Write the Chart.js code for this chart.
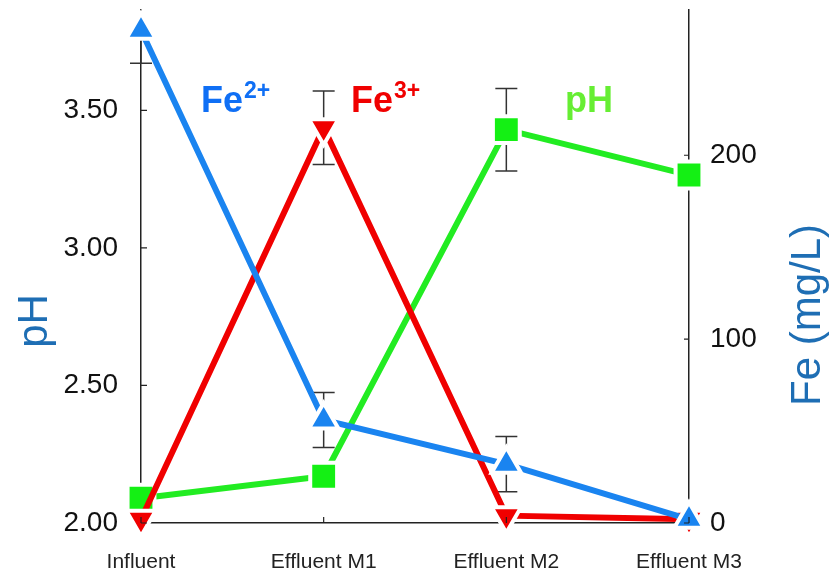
<!DOCTYPE html>
<html>
<head>
<meta charset="utf-8">
<title>pH and Fe</title>
<script src="https://cdn.jsdelivr.net/npm/chart.js@4"></script>
<style>
    html, body { margin: 0; padding: 0; background: #fff; }
    #wrap { width: 834px; height: 573px; position: relative; }
</style>
</head>
<body>
<div id="wrap"><canvas id="feChart"></canvas></div>
<script>
// Data
const categories = ['Influent', 'Effluent M1', 'Effluent M2', 'Effluent M3'];
const fe2 = [268, 56, 32, 2];
const fe2Err = [18, 15, 15, 0];
const fe3 = [2, 215, 4, 2];
const fe3Err = [0, 20, 0, 0];
const ph = [2.09, 2.17, 3.43, 3.265];
const phErr = [0, 0, 0.15, 0];
const phTicks = [2.0, 2.5, 3.0, 3.5];
const feTicks = [0, 100, 200];

const FONT = "'Liberation Sans', Arial, sans-serif";
Chart.defaults.font.family = FONT;

const errors = [fe2Err, fe3Err, phErr];

// Error bars, drawn under the markers
const errorBars = {
    id: 'errorBars',
    beforeDatasetsDraw(chart) {
        const ctx = chart.ctx;
        const area = chart.chartArea;
        const xs = chart.scales.x;
        ctx.save();
        ctx.beginPath();
        ctx.rect(area.left - 20, area.top, area.right - area.left + 40, area.bottom - area.top);
        ctx.clip();
        ctx.strokeStyle = '#333';
        ctx.lineWidth = 1.5;
        chart.data.datasets.forEach((ds, d) => {
            const ys = chart.scales[ds.yAxisID];
            errors[d].forEach((e, i) => {
                if (!e) return;
                const x = xs.getPixelForValue(i);
                const top = ys.getPixelForValue(ds.data[i] + e);
                const bot = ys.getPixelForValue(ds.data[i] - e);
                ctx.beginPath();
                ctx.moveTo(x, top); ctx.lineTo(x, bot);
                ctx.moveTo(x - 11, top); ctx.lineTo(x + 11, top);
                ctx.moveTo(x - 11, bot); ctx.lineTo(x + 11, bot);
                ctx.stroke();
            });
        });
        ctx.restore();
    }
};

// Inward tick marks, axis titles and series labels
const decorations = {
    id: 'decorations',
    afterDraw(chart) {
        const ctx = chart.ctx;
        const area = chart.chartArea;
        const { x, y, y1 } = chart.scales;
        ctx.save();
        ctx.strokeStyle = '#222';
        ctx.lineWidth = 1.2;
        ctx.beginPath();
        phTicks.forEach(v => {
            const py = y.getPixelForValue(v);
            ctx.moveTo(area.left, py); ctx.lineTo(area.left + 6, py);
        });
        feTicks.forEach(v => {
            const py = y1.getPixelForValue(v);
            ctx.moveTo(area.right, py); ctx.lineTo(area.right - 5, py);
        });
        categories.forEach((c, i) => {
            const px = x.getPixelForValue(i);
            ctx.moveTo(px, area.bottom); ctx.lineTo(px, area.bottom - 6);
        });
        ctx.stroke();

        // axis titles, both read bottom to top
        ctx.fillStyle = '#1e6eb4';
        ctx.font = '42px ' + FONT;
        ctx.textAlign = 'center';
        ctx.textBaseline = 'middle';
        ctx.save();
        ctx.translate(35, 321);
        ctx.rotate(-Math.PI / 2);
        ctx.fillText('pH', 0, 0);
        ctx.restore();
        ctx.save();
        ctx.translate(808, 315);
        ctx.rotate(-Math.PI / 2);
        ctx.fillText('Fe (mg/L)', 0, 0);
        ctx.restore();

        // series labels
        ctx.textAlign = 'left';
        ctx.textBaseline = 'alphabetic';
        const label = (txt, sup, px, color) => {
            ctx.fillStyle = color;
            ctx.font = 'bold 36px ' + FONT;
            ctx.fillText(txt, px, 112);
            const w = ctx.measureText(txt).width;
            if (sup) {
                ctx.font = 'bold 23px ' + FONT;
                ctx.fillText(sup, px + w + 1, 98);
            }
        };
        label('Fe', '2+', 201, '#0f6ff5');
        label('Fe', '3+', 351, '#f00000');
        label('pH', '', 565, '#66ee33');
        ctx.restore();
    }
};

const fixBox = (w, h) => scale => {
    if (w !== null) scale.width = w;
    if (h !== null) scale.height = h;
    scale.paddingTop = 0; scale.paddingBottom = 0;
    scale.paddingLeft = 0; scale.paddingRight = 0;
};

const ctx = document.getElementById('feChart').getContext('2d');
const feChart = new Chart(ctx, {
    type: 'line',
    data: {
        labels: categories,
        datasets: [{
            label: 'Fe2+',
            data: fe2,
            yAxisID: 'y1',
            borderColor: '#1a84f0',
            backgroundColor: '#1a84f0',
            borderWidth: 6,
            pointStyle: 'triangle',
            pointRadius: 17,
            pointBorderColor: '#fff',
            pointBorderWidth: 4,
            clip: false
        }, {
            label: 'Fe3+',
            data: fe3,
            yAxisID: 'y1',
            borderColor: '#f00000',
            backgroundColor: '#f00000',
            borderWidth: 6,
            pointStyle: 'triangle',
            pointRotation: 180,
            pointRadius: 17,
            pointBorderColor: '#fff',
            pointBorderWidth: 4,
            clip: false
        }, {
            label: 'pH',
            data: ph,
            yAxisID: 'y',
            borderColor: '#22ec22',
            backgroundColor: '#14f014',
            borderWidth: 6,
            pointStyle: 'rect',
            pointRadius: 19,
            pointBorderColor: '#fff',
            pointBorderWidth: 4,
            clip: false
        }]
    },
    options: {
        responsive: true,
        maintainAspectRatio: false,
        animation: false,
        layout: { autoPadding: false, padding: { top: 10, left: 0, right: 0, bottom: 0 } },
        plugins: {
            legend: { display: false },
            tooltip: { enabled: false }
        },
        scales: {
            x: {
                type: 'category',
                offset: false,
                z: 1,
                grid: { display: false, drawTicks: false },
                border: { display: true, color: '#222', width: 1.5 },
                ticks: { color: '#222', font: { size: 21 }, padding: 27, maxRotation: 0, autoSkip: false },
                afterFit: fixBox(null, 50)
            },
            y: {
                position: 'left',
                min: 2,
                max: 3.865,
                z: 1,
                grid: { display: false, drawTicks: false },
                border: { display: true, color: '#222', width: 1.5 },
                afterBuildTicks: s => { s.ticks = phTicks.map(v => ({ value: v })); },
                ticks: { color: '#111', font: { size: 28 }, padding: 23, callback: v => v.toFixed(2) },
                afterFit: fixBox(141, null)
            },
            y1: {
                position: 'right',
                min: 0,
                max: 279,
                z: 1,
                grid: { display: false, drawTicks: false },
                border: { display: true, color: '#222', width: 1.5 },
                afterBuildTicks: s => { s.ticks = feTicks.map(v => ({ value: v })); },
                ticks: { color: '#111', font: { size: 28 }, padding: 21 },
                afterFit: fixBox(145, null)
            }
        }
    },
    plugins: [errorBars, decorations]
});
</script>
</body>
</html>
